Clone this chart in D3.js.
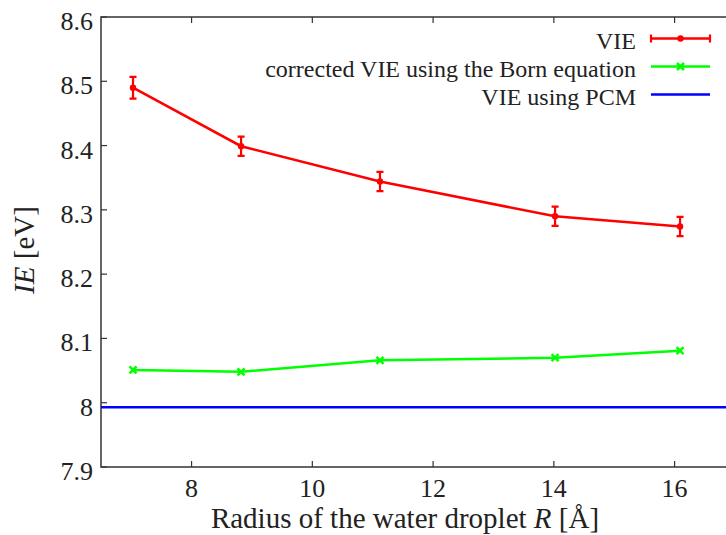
<!DOCTYPE html>
<html>
<head>
<meta charset="utf-8">
<script src="https://cdn.jsdelivr.net/npm/d3@7"></script>
<style>
  html, body { margin: 0; padding: 0; background: #fff; }
</style>
</head>
<body>
<svg id="chart" width="726" height="535"></svg>
<script>
  // droplet radius R [Å]
  const radius = [7.03, 8.82, 11.12, 14.02, 16.09];
  // VIE with error bars
  const vie = [8.490, 8.399, 8.344, 8.290, 8.274];
  const vieErr = [0.017, 0.015, 0.015, 0.015, 0.015];
  // corrected VIE (Born equation)
  const vieBorn = [8.051, 8.048, 8.066, 8.070, 8.081];
  // VIE using PCM
  const viePcm = 7.993;

  const xTicks = [8, 10, 12, 14, 16];
  const yTicks = [7.9, 8.0, 8.1, 8.2, 8.3, 8.4, 8.5, 8.6];

  (function() {
  const FONT = "'Liberation Serif', 'Times New Roman', Times, serif";
  const svg = d3.select('#chart')
    .style('font-family', FONT);
  const pLeft = 101, pRight = 735, pTop = 17, pBottom = 467;

  const x = d3.scaleLinear().domain([6.5, 17]).range([pLeft, pRight]);
  const y = d3.scaleLinear().domain([7.9, 8.6]).range([pBottom, pTop]);

  const axisColor = '#333';
  const textColor = '#222';

  // frame
  svg.append('rect')
    .attr('x', pLeft).attr('y', pTop)
    .attr('width', pRight - pLeft).attr('height', pBottom - pTop)
    .attr('fill', 'none').attr('stroke', axisColor).attr('stroke-width', 1.5);

  // inward ticks on all sides
  const tickLen = 6;
  xTicks.forEach(t => {
    svg.append('line').attr('x1', x(t)).attr('x2', x(t))
      .attr('y1', pBottom).attr('y2', pBottom - tickLen)
      .attr('stroke', axisColor).attr('stroke-width', 1.2);
    svg.append('line').attr('x1', x(t)).attr('x2', x(t))
      .attr('y1', pTop).attr('y2', pTop + tickLen)
      .attr('stroke', axisColor).attr('stroke-width', 1.2);
    svg.append('text')
      .attr('x', x(t)).attr('y', 497)
      .attr('text-anchor', 'middle')
      .attr('fill', textColor)
      .style('font-size', '26px')
      .text(t);
  });

  yTicks.forEach(t => {
    svg.append('line').attr('x1', pLeft).attr('x2', pLeft + tickLen)
      .attr('y1', y(t)).attr('y2', y(t))
      .attr('stroke', axisColor).attr('stroke-width', 1.2);
    svg.append('line').attr('x1', pRight).attr('x2', pRight - tickLen)
      .attr('y1', y(t)).attr('y2', y(t))
      .attr('stroke', axisColor).attr('stroke-width', 1.2);
    svg.append('text')
      .attr('x', pLeft - 8).attr('y', y(t))
      .attr('dy', '0.5em')
      .attr('text-anchor', 'end')
      .attr('fill', textColor)
      .style('font-size', '26px')
      .text(d3.format('~g')(+t.toFixed(1)));
  });

  // axis titles
  const xt = svg.append('text')
    .attr('x', 405).attr('y', 528)
    .attr('text-anchor', 'middle')
    .attr('fill', textColor)
    .style('font-size', '29px');
  xt.append('tspan').text('Radius of the water droplet ');
  xt.append('tspan').style('font-style', 'italic').text('R');
  xt.append('tspan').text(' [Å]');

  const yt = svg.append('text')
    .attr('transform', 'translate(34,250) rotate(-90)')
    .attr('text-anchor', 'middle')
    .attr('fill', textColor)
    .style('font-size', '29px');
  yt.append('tspan').style('font-style', 'italic').text('IE');
  yt.append('tspan').text(' [eV]');

  const line = d3.line().x(d => x(d[0])).y(d => y(d[1]));

  // PCM line
  svg.append('line')
    .attr('x1', pLeft).attr('x2', pRight)
    .attr('y1', y(viePcm)).attr('y2', y(viePcm))
    .attr('stroke', '#0000ff').attr('stroke-width', 2.5);

  // Born-corrected series
  const bornPts = radius.map((r, i) => [r, vieBorn[i]]);
  svg.append('path')
    .attr('d', line(bornPts))
    .attr('fill', 'none').attr('stroke', '#00ff00').attr('stroke-width', 2.5);

  function cross(g, cx, cy, color) {
    const s = 3.5;
    g.append('path')
      .attr('d', `M${cx - s},${cy - s}L${cx + s},${cy + s}M${cx - s},${cy + s}L${cx + s},${cy - s}`)
      .attr('stroke', color).attr('stroke-width', 2.5);
  }
  const bornG = svg.append('g');
  bornPts.forEach(p => cross(bornG, x(p[0]), y(p[1]), '#00ff00'));

  // VIE series with error bars
  const viePts = radius.map((r, i) => [r, vie[i]]);
  svg.append('path')
    .attr('d', line(viePts))
    .attr('fill', 'none').attr('stroke', '#ff0000').attr('stroke-width', 2.5);

  const vieG = svg.append('g');
  viePts.forEach((p, i) => {
    const cx = x(p[0]);
    const y1 = y(p[1] - vieErr[i]), y2 = y(p[1] + vieErr[i]);
    vieG.append('path')
      .attr('d', `M${cx},${y1}L${cx},${y2}M${cx - 3.5},${y1}L${cx + 3.5},${y1}M${cx - 3.5},${y2}L${cx + 3.5},${y2}`)
      .attr('stroke', '#ff0000').attr('stroke-width', 2.2).attr('fill', 'none');
    vieG.append('circle')
      .attr('cx', cx).attr('cy', y(p[1])).attr('r', 3.2)
      .attr('fill', '#ff0000');
  });

  // legend
  const legendItems = [
    { label: 'VIE', color: '#ff0000', kind: 'err' },
    { label: 'corrected VIE using the Born equation', color: '#00ff00', kind: 'cross' },
    { label: 'VIE using PCM', color: '#0000ff', kind: 'line' }
  ];
  const lg = svg.append('g');
  const lx0 = 651, lx1 = 710, textX = 636;
  legendItems.forEach((item, i) => {
    const ly = 38.5 + i * 28;
    lg.append('text')
      .attr('x', textX).attr('y', ly)
      .attr('dy', '0.42em')
      .attr('text-anchor', 'end')
      .attr('fill', textColor)
      .style('font-size', '24px')
      .text(item.label);
    lg.append('line')
      .attr('x1', lx0).attr('x2', lx1).attr('y1', ly).attr('y2', ly)
      .attr('stroke', item.color).attr('stroke-width', 2.5);
    const mx = (lx0 + lx1) / 2;
    if (item.kind === 'err') {
      lg.append('path')
        .attr('d', `M${lx0},${ly - 4}L${lx0},${ly + 4}M${lx1},${ly - 4}L${lx1},${ly + 4}`)
        .attr('stroke', item.color).attr('stroke-width', 2.2);
      lg.append('circle').attr('cx', mx).attr('cy', ly).attr('r', 3.2).attr('fill', item.color);
    } else if (item.kind === 'cross') {
      cross(lg, mx, ly, item.color);
    }
  });
  })();
</script>
</body>
</html>
